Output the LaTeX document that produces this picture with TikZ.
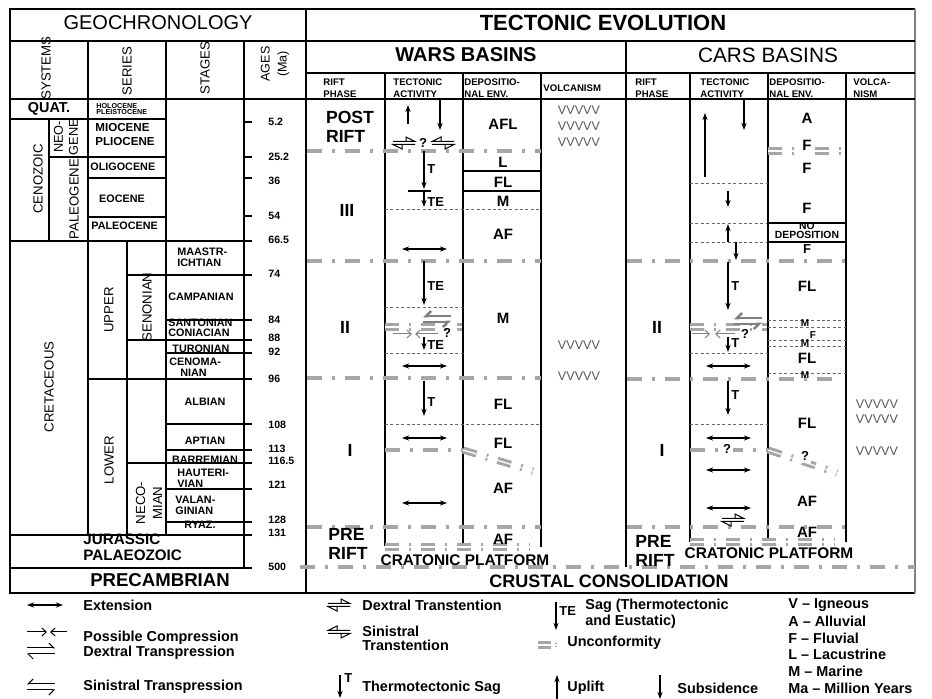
\documentclass[tikz,border=0pt]{standalone}
\usepackage{fontspec}
\setmainfont{Liberation Sans}
\usetikzlibrary{arrows.meta}
\newcommand\fsz[2]{\fontsize{#1}{#2}\selectfont}
\tikzset{ln/.style={line width=0.6pt},
  fr/.style={line width=1.4pt},
  mid/.style={line width=1pt},
  unc/.style={gray!70,line width=1.9pt,dash pattern=on 7.5pt off 5pt on 1.5pt off 5pt},
  uncd/.style={gray!70,line width=1.5pt,double=white,double distance=0.6pt,dash pattern=on 7pt off 5pt on 1pt off 5pt},
  brk/.style={gray!80!black,line width=0.4pt,dash pattern=on 1.5pt off 1.2pt},
  sub/.style={-{Stealth[length=3.6pt,width=2.6pt]},line width=0.55pt},
  ext/.style={{Stealth[length=3.6pt,width=2.6pt]}-{Stealth[length=3.6pt,width=2.6pt]},line width=0.55pt},
  cmp/.style={-{Straight Barb[length=2.2pt,width=4pt]},line width=0.5pt},
  hrp/.style={-{Straight Barb[length=2.5pt,width=5pt,#1]},line width=0.5pt},
  ttl/.style={font=\fsz{10}{12},inner sep=0},
  chd/.style={font=\bfseries\fsz{4.8}{6},anchor=west,align=left,inner sep=0},
  stg/.style={font=\bfseries\fsz{5.4}{5.6},align=left,inner sep=0},
  sys/.style={font=\fsz{6.6}{8.5},rotate=90,align=center,inner sep=0},
  age/.style={font=\bfseries\fsz{5.3}{6},anchor=west,inner sep=0},
  env/.style={font=\bfseries\fsz{7.5}{8},inner sep=0},
  sml/.style={font=\bfseries\fsz{5}{5},inner sep=0},
  phs/.style={font=\bfseries\fsz{8.8}{9.5},inner sep=0,align=left},
  volc/.style={font=\fsz{6.3}{7},text=black!65,inner sep=0},
  key/.style={font=\bfseries\fsz{7.2}{6.6},anchor=west,inner sep=0,align=left},
  lab/.style={font=\bfseries\fsz{6.5}{7},inner sep=0}}
\newcommand\dextt[3][black]{%
  \draw[#1,line width=0.5pt] (#2-11,#3-1.5)--(#2+11,#3-1.5)--(#2+2,#3-6)--(#2+2,#3-1.5);
  \draw[#1,line width=0.5pt] (#2+11,#3+1.5)--(#2-11,#3+1.5)--(#2-2,#3+6)--(#2-2,#3+1.5);}
\newcommand\sinitt[3][black]{%
  \draw[#1,line width=0.5pt] (#2+11,#3-1.5)--(#2-11,#3-1.5)--(#2-2,#3-6)--(#2-2,#3-1.5);
  \draw[#1,line width=0.5pt] (#2-11,#3+1.5)--(#2+11,#3+1.5)--(#2+2,#3+6)--(#2+2,#3+1.5);}
\newcommand\dextp[3][black]{%
  \draw[hrp=left,#1] (#2-14,#3-3)--(#2+14,#3-3);
  \draw[hrp=left,#1] (#2+14,#3+3)--(#2-14,#3+3);}
\newcommand\sinitp[3][black]{%
  \draw[hrp=right,#1] (#2+14,#3-3)--(#2-14,#3-3);
  \draw[hrp=right,#1] (#2-14,#3+3)--(#2+14,#3+3);}
\begin{document}
\begin{tikzpicture}[x=0.5pt,y=-0.5pt]
\fill[white] (0,0) rectangle (932,699);
\useasboundingbox (0,0) rectangle (932,699);
% geochronology
\draw[fr] (10,9) rectangle (306,593);
\draw[ln] (10,41)--(306,41) (166,99)--(306,99);
\draw[ln] (88,41)--(88,535) (166,41)--(166,535) (244,41)--(244,568) (127,241)--(127,535);
\draw[fr] (10,99) rectangle (166,241);
\draw[mid] (10,119)--(166,119) (49,119)--(49,241) (49,157)--(166,157) (88,99)--(88,241);
\draw[ln] (88,178)--(166,178) (88,217)--(166,217);
\foreach \y in {122,157,178,216} \draw[ln] (244,\y)--(252,\y);
\draw[ln] (166,241)--(252,241);
\foreach \y/\xa in {275/127,320/166,340/127,353/166,379/88,424/166,450/166,463/127,489/166,522/166,535/10,568/10}
  \draw[ln] (\xa,\y)--(252,\y);
\foreach \y/\a [count=\i] in {122/5.2,157/25.2,181/36,216/54,240/66.5,274/74,320/84,338/88,352/92,379/96,425/108,449/113,461/116.5,485/121,520/128,533/131,567/500}
  \node[age] (age\i) at (268,\y) {\a};
\node[ttl] (geo) at (158,23) {GEOCHRONOLOGY};
\node[sys] (systems) at (46,68) {SYSTEMS};
\node[sys] (series) at (127,71) {SERIES};
\node[sys] (stages) at (205,68) {STAGES};
\node[sys,font=\fsz{6.3}{8.5}] (ages) at (275,64) {AGES\\(Ma)};
\node[font=\bfseries\fsz{7.2}{8},inner sep=0] (quat) at (49,109) {QUAT.};
\node[stg,font=\bfseries\fsz{3.6}{3.2},anchor=west] (holo) at (96,109) {HOLOCENE\\PLEISTOCENE};
\node[sys] (cenozoic) at (38,179) {CENOZOIC};
\node[sys,font=\fsz{6.4}{7.5}] (neogene) at (66,137) {NEO-\\GENE};
\node[sys] (paleogene) at (74,199) {PALEOGENE};
\node[stg,anchor=west,font=\bfseries\fsz{5.8}{7}] (mio) at (95,135) {MIOCENE\\PLIOCENE};
\node[stg,anchor=west] (oligo) at (90,167) {OLIGOCENE};
\node[stg] (eoc) at (122,199) {EOCENE};
\node[stg,anchor=west] (paleoc) at (91,226) {PALEOCENE};
\node[sys] (cret) at (49,387) {CRETACEOUS};
\node[sys] (upper) at (109,310) {UPPER};
\node[sys] (lower) at (109,460) {LOWER};
\node[sys] (senon) at (147,307) {SENONIAN};
\node[sys] (neocom) at (149,503) {NECO-\\MIAN};
\node[stg,anchor=west] (maas) at (177,257) {MAASTR-\\ICHTIAN};
\node[stg,anchor=west] (camp) at (168,297) {CAMPANIAN};
\node[stg,anchor=west] (sant) at (168,323) {SANTONIAN};
\node[stg,anchor=west] (coni) at (168,333) {CONIACIAN};
\node[stg,anchor=west] (turo) at (172,349) {TURONIAN};
\node[stg,anchor=west] (ceno1) at (169,362) {CENOMA-};
\node[stg,anchor=west] (ceno2) at (180,373) {NIAN};
\node[stg] (alb) at (205,402) {ALBIAN};
\node[stg] (apt) at (205,441) {APTIAN};
\node[stg] (barr) at (205,460) {BARREMIAN};
\node[stg,anchor=west] (haut) at (177,478) {HAUTERI-\\VIAN};
\node[stg,anchor=west] (valan) at (175,505) {VALAN-\\GINIAN};
\node[stg] (ryaz) at (200,525) {RYAZ.};
\node[font=\bfseries\fsz{7.6}{8},inner sep=0,anchor=west] (jur) at (83,539) {JURASSIC};
\node[font=\bfseries\fsz{7.6}{8},inner sep=0,anchor=west] (palz) at (83,555) {PALAEOZOIC};
\node[font=\bfseries\fsz{9.3}{10},inner sep=0] (precamb) at (160,580) {PRECAMBRIAN};
% tectonic evolution frame
\draw[fr] (306,9)--(915,9) (10,593)--(915,593);
\draw[gray,line width=1.4pt] (915,9)--(915,593);
\draw[ln] (626,41)--(915,41) (306,73)--(915,73) (306,99)--(915,99);
\draw[fr] (306,41)--(626,41)--(626,567);
\draw[ln] (385,73)--(385,546) (463,73)--(463,546) (541,73)--(541,547);
\draw[ln] (690,73)--(690,542) (768,73)--(768,542) (846,73)--(846,542);
\draw[ln] (463,171)--(541,171) (463,191)--(541,191);
\node[font=\bfseries\fsz{11}{12},inner sep=0] (tect) at (603,23) {TECTONIC EVOLUTION};
\node[font=\bfseries\fsz{10}{12},inner sep=0] (wars) at (466,55) {WARS BASINS};
\node[ttl,font=\fsz{10.4}{12}] (cars) at (768,55) {CARS BASINS};
\foreach \xa/\t [count=\i] in {323/RIFT\\PHASE,393/TECTONIC\\ACTIVITY,464/DEPOSITIO-\\NAL ENV.,543/VOLCANISM,635/RIFT\\PHASE,700/TECTONIC\\ACTIVITY,769/DEPOSITIO-\\NAL ENV.,853/VOLCA-\\NISM}
  \node[chd] (col\i) at (\xa,88) {\t};
% breaks
\draw[brk] (385,209)--(541,209) (385,307)--(463,307) (385,353)--(463,353) (385,424)--(541,424);
\foreach \y in {183,223,242,353,424} \draw[brk] (690,\y)--(768,\y);
\foreach \y in {320,327,340,346,373} \draw[brk] (768,\y)--(846,\y);
% unconformities
\foreach \y in {151,261,378,527} \draw[unc] (307,\y)--(541,\y);
\draw[unc] (385,450)--(463,450);
\draw[uncd] (463,450)--(533,471);
\draw[uncd] (385,547)--(530,547);
\draw[uncd] (385,327)--(462,327);
\draw[uncd] (768,151)--(797,151) (815,151)--(846,151);
\foreach \y in {261,527} \draw[unc] (627,\y)--(846,\y);
\draw[unc] (627,379)--(835,379);
\draw[unc] (690,450)--(768,450);
\draw[uncd] (768,450)--(837,473);
\draw[uncd] (690,542)--(835,542);
\draw[uncd] (690,327)--(767,327);
\draw[unc] (300,567)--(915,567);
% wars tectonic activity
\draw[sub] (408,124)--(408,105);
\draw[sub] (440,99)--(440,130);
\dextt{404}{143} \sinitt{443}{143}
\node[lab] (wq1) at (423,143) {?};
\draw[sub] (424,151)--(424,189);
\node[lab,anchor=west] (wt1) at (427,169) {T};
\draw[ln] (408,191)--(431,191);
\draw[sub] (424,191)--(424,207);
\node[lab,anchor=west] (wte1) at (427,202) {TE};
\draw[ext] (402,249)--(447,249);
\draw[sub] (424,261)--(424,305);
\node[lab,anchor=west] (wte2) at (427,286) {TE};
\sinitp[gray,line width=1.3pt]{437}{319}
\draw[cmp,gray] (393,334)--(412,334);
\draw[cmp,gray] (438,334)--(415,334);
\node[lab] (wq2) at (447,333) {?};
\draw[sub] (424,337)--(424,350);
\node[lab,anchor=west] (wte3) at (427,345) {TE};
\draw[ext] (402,366)--(447,366);
\draw[sub] (424,381)--(424,416);
\node[lab,anchor=west] (wt2) at (427,402) {T};
\draw[ext] (402,438)--(447,438);
\draw[ext] (402,503)--(447,503);
% wars phases, environments, volcanism
\node[phs] (wpost) at (350,127) {POST\\RIFT};
\node[phs] (wiii) at (347,210) {III};
\node[phs] (wii) at (345,327) {II};
\node[phs] (wi) at (350,450) {I};
\node[phs] (wpre) at (348,544) {PRE\\RIFT};
\foreach \y/\t [count=\i] in {124/AFL,162/L,182/FL,201/M,234/AF,318/M,404/FL,443/FL,488/AF,539/AF}
  \node[env] (wenv\i) at (503,\y) {\t};
\foreach \y [count=\i] in {110,126,142,345,376}
  \node[volc] (wv\i) at (579,\y) {VVVVV};
\node[font=\bfseries\fsz{7.7}{8},inner sep=0] (wcrat) at (465,560) {CRATONIC PLATFORM};
% cars tectonic activity
\draw[sub] (705,177)--(705,113);
\draw[sub] (744,99)--(744,130);
\draw[sub] (728,191)--(728,207);
\draw[sub] (728,242)--(728,224);
\draw[sub] (736,242)--(736,260);
\draw[sub] (728,262)--(728,310);
\node[lab,anchor=west] (ct1) at (731,286) {T};
\sinitp[gray,line width=1.3pt]{748}{321}
\draw[cmp,gray] (692,334)--(710,334);
\draw[cmp,gray] (735,334)--(715,334);
\node[lab] (cq1) at (745,334) {?};
\draw[sub] (728,337)--(728,352);
\node[lab,anchor=west] (ct2) at (731,343) {T};
\draw[ext] (706,366)--(751,366);
\draw[sub] (728,381)--(728,415);
\node[lab,anchor=west] (ct3) at (731,395) {T};
\draw[ext] (706,438)--(751,438);
\node[lab,fill=white,inner sep=1pt] (cq2) at (727,449) {?};
\draw[ext] (706,470)--(751,470);
\draw[ext] (706,508)--(751,508);
\dextt{733}{520}
% cars phases, environments, volcanism
\node[phs] (cii) at (657,327) {II};
\node[phs] (ci) at (662,450) {I};
\node[phs,anchor=west] (cpre) at (635,551) {PRE\\RIFT};
\foreach \y/\t [count=\i] in {118/A,145/F,168/F,208/F,286/FL,358/FL,423/FL,501/AF,532/AF}
  \node[env] (cenv\i) at (807,\y) {\t};
\node[sml] (cm1) at (805,323) {M};
\node[sml] (cf1) at (813,335) {F};
\node[sml] (cm2) at (805,343) {M};
\node[sml] (cm3) at (805,375) {M};
\node[lab,fill=white,inner sep=1pt] (cq3) at (805,456) {?};
\node[env,font=\bfseries\fsz{6.5}{7}] (cenvf) at (807,249) {F};
\draw[line width=1.1pt] (768,223) rectangle (846,242);
\begin{scope}
\clip (768,223) rectangle (846,242);
\node[font=\bfseries\fsz{5.2}{4.6},align=center,inner sep=0] (nodep) at (807,230.5) {NO\\DEPOSITION};
\end{scope}
\foreach \y [count=\i] in {404,419,451}
  \node[volc] (cv\i) at (877,\y) {VVVVV};
\node[font=\bfseries\fsz{7.7}{8},inner sep=0] (ccrat) at (769,553) {CRATONIC PLATFORM};
\node[font=\bfseries\fsz{9}{10},inner sep=0] (crust) at (609,581) {CRUSTAL CONSOLIDATION};
% legend
\draw[ext] (27,605)--(63,605);
\node[key] (kext) at (83,605) {Extension};
\draw[cmp] (27,632)--(47,632);
\draw[cmp] (67,632)--(50,632);
\node[key] (kcmp) at (83,638) {Possible Compression};
\dextp{41}{651}
\node[key] (kdtp) at (83,653) {Dextral Transpression};
\sinitp{41}{687}
\node[key] (kstp) at (83,687) {Sinistral Transpression};
\dextt{339}{605}
\node[key] (kdtt) at (362,605) {Dextral Transtention};
\sinitt{339}{632}
\node[key,anchor=north west] (kstt) at (362,626) {Sinistral\\Transtention};
\draw[sub] (340,675)--(340,698);
\node[lab,anchor=west] (kt) at (344,678) {T};
\node[key] (ktsag) at (362,688) {Thermotectonic Sag};
\draw[sub] (556,602)--(556,630);
\node[lab,anchor=west] (kte) at (559,611) {TE};
\node[key,anchor=north west] (ktesag) at (585,599) {Sag (Thermotectonic\\and Eustatic)};
\draw[gray!70,line width=1.5pt,double=white,double distance=0.6pt] (538,645)--(551,645);
\fill[gray!70] (555,643) rectangle (557,644) (555,646) rectangle (557,647);
\node[key] (kunc) at (567,643) {Unconformity};
\draw[sub] (557,699)--(557,675);
\node[key] (kup) at (567,688) {Uplift};
\draw[sub] (660,675)--(660,699);
\node[key] (kdown) at (677,688) {Subsidence};
\foreach \t [count=\i] in {V -- Igneous,A -- Alluvial,F -- Fluvial,L -- Lacustrine,M -- Marine,Ma -- Million Years}
  \node[key] (kl\i) at (788,{605+16.6*(\i-1)}) {\t};
\end{tikzpicture}
\end{document}
